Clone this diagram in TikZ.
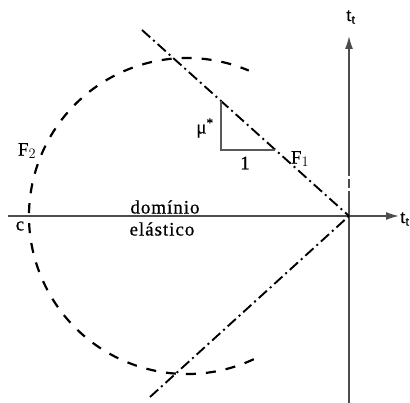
\documentclass[tikz,border=0pt]{standalone}
\usepackage{fontspec}
\setmainfont{Liberation Serif}[FakeBold=0.6]
\usetikzlibrary{arrows.meta}
\begin{document}
\begin{tikzpicture}[x=1pt,y=-1pt,
  axisline/.style={draw=black!70, line width=1.4pt, -{Latex[length=13pt,width=8pt]}},
  circline/.style={draw=black, line width=2.2pt, dash pattern=on 10pt off 10pt},
  fline/.style={draw=black, line width=1.9pt, dash pattern=on 11pt off 4pt on 2pt off 4pt},
  tri/.style={draw=black!65, line width=1.4pt},
  lbl/.style={inner sep=0pt, font=\fontsize{19}{21}\selectfont},
  spaced/.style={inner sep=0pt, align=center, font=\fontsize{19}{22}\selectfont\addfontfeatures{LetterSpace=5}}]
\useasboundingbox (0,0) rectangle (410,403);
% axes
\coordinate (O) at (349,216);
\coordinate (xs) at (8,216);
\coordinate (xe) at (399,216);
\coordinate (ys) at (349,403);
\coordinate (ye) at (349,36);
\draw[axisline] (xs) -- (xe);
\draw[axisline] (ys) -- (ye);
\fill[white] (347,176) rectangle (351,179);
\fill[white] (347,188) rectangle (351,191);
\node[lbl, anchor=west] (tx) at (400,219) {t$_{\mathrm{t}}$};
\node[lbl] (ty) at (351,17) {t$_{\mathrm{t}}$};
% circle F2
\coordinate (C) at (187,216);
\draw[circline] (C) ++(65:158) arc[start angle=65, end angle=293, radius=158];
% F1 lines
\coordinate (F1s) at (142,30);
\coordinate (F2s) at (150,397);
\draw[fline] (F1s) -- (O);
\draw[fline] (F2s) -- (O);
% triangle
\coordinate (T1) at (221,101);
\coordinate (T2) at (221,150);
\coordinate (T3) at (275,150);
\draw[tri] (T1) -- (T2) -- (T3);
% labels
\node[lbl] (mu) at (205,128) {μ\textsuperscript{*}};
\node[lbl] (one) at (245,163) {1};
\node[lbl] (f1) at (300,159) {F$_{1}$};
\node[lbl] (f2) at (27,151) {F$_{2}$};
\node[lbl] (c) at (20,226) {c};
\node[spaced] (dom) at (165,207) {domínio};
\node[spaced] (ela) at (162,229) {elástico};
\end{tikzpicture}
\end{document}
